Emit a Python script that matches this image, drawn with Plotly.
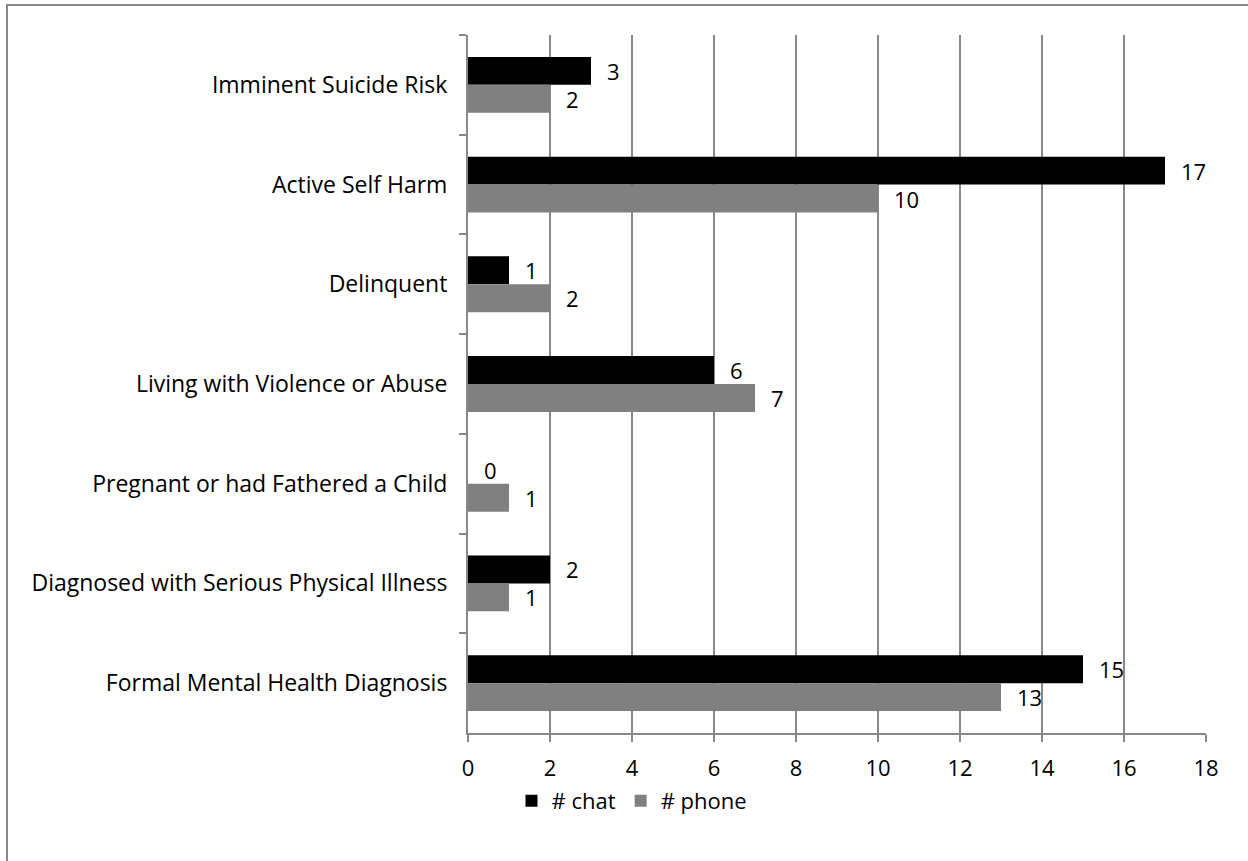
import plotly.graph_objects as go

categories = [
    "Imminent Suicide Risk",
    "Active Self Harm",
    "Delinquent",
    "Living with Violence or Abuse",
    "Pregnant or had Fathered a Child",
    "Diagnosed with Serious Physical Illness",
    "Formal Mental Health Diagnosis",
]
chat = [3, 17, 1, 6, 0, 2, 15]
phone = [2, 10, 2, 7, 1, 1, 13]
x_ticks = [0, 2, 4, 6, 8, 10, 12, 14, 16, 18]

FONT = "Open Sans"
FS = 23
GRID = "#888888"
BARGAP = 0.44

fig = go.Figure()
fig.add_trace(go.Bar(
    y=categories, x=chat, name="# chat", orientation="h",
    marker=dict(color="#000000", line=dict(width=0)),
))
fig.add_trace(go.Bar(
    y=categories, x=phone, name="# phone", orientation="h",
    marker=dict(color="#808080", line=dict(width=0)),
))

# data labels placed just past the end of each bar
half = (1 - BARGAP) / 4
for i, (c, p) in enumerate(zip(chat, phone)):
    for val, off in ((c, -half), (p, half)):
        fig.add_annotation(
            x=val, y=i + off, xref="x", yref="y", text=str(val),
            showarrow=False, xanchor="left", yanchor="middle", xshift=14,
            font=dict(family=FONT, size=FS - 1, color="#000000"),
        )

L, R, T, B = 468, 42, 35, 128
W, H = 1248, 861
pw = W - L - R
ph = H - T - B

fig.update_layout(
    width=W, height=H,
    margin=dict(l=L, r=R, t=T, b=B, pad=0),
    barmode="group", bargap=BARGAP, bargroupgap=0,
    paper_bgcolor="white", plot_bgcolor="white",
    font=dict(family=FONT, size=FS, color="#000000"),
    showlegend=True,
    legend=dict(
        orientation="h", x=(632 - L) / pw, xanchor="center",
        y=(T + ph - 801) / ph, yanchor="middle",
        font=dict(family=FONT, size=FS - 1), itemwidth=30,
        traceorder="normal", bgcolor="rgba(0,0,0,0)",
    ),
)
fig.update_xaxes(
    range=[0, 18], tickvals=x_ticks, ticktext=[str(v) for v in x_ticks],
    showgrid=True, gridcolor=GRID, gridwidth=2,
    showline=True, linecolor=GRID, linewidth=2,
    ticks="outside", ticklen=7, tickcolor=GRID, tickwidth=2,
    ticklabelstandoff=8,
    zeroline=False, fixedrange=True,
    tickfont=dict(family=FONT, size=FS - 1),
)
fig.update_yaxes(
    categoryorder="array", categoryarray=categories, autorange="reversed",
    showgrid=False, showline=True, linecolor=GRID, linewidth=2,
    ticks="outside", ticklen=7, tickcolor=GRID, tickwidth=2,
    tickson="boundaries", ticklabelstandoff=14,
    tickfont=dict(family=FONT, size=FS),
    fixedrange=True,
)
# chart-area border
fig.add_shape(
    type="rect", xref="paper", yref="paper",
    x0=(7 - L) / pw, x1=(W + 20 - L) / pw,
    y0=(T + ph - (H + 20)) / ph, y1=(T + ph - 5) / ph,
    line=dict(color="#888888", width=2), fillcolor="rgba(0,0,0,0)",
    layer="below",
)

fig.write_html("out.html")
